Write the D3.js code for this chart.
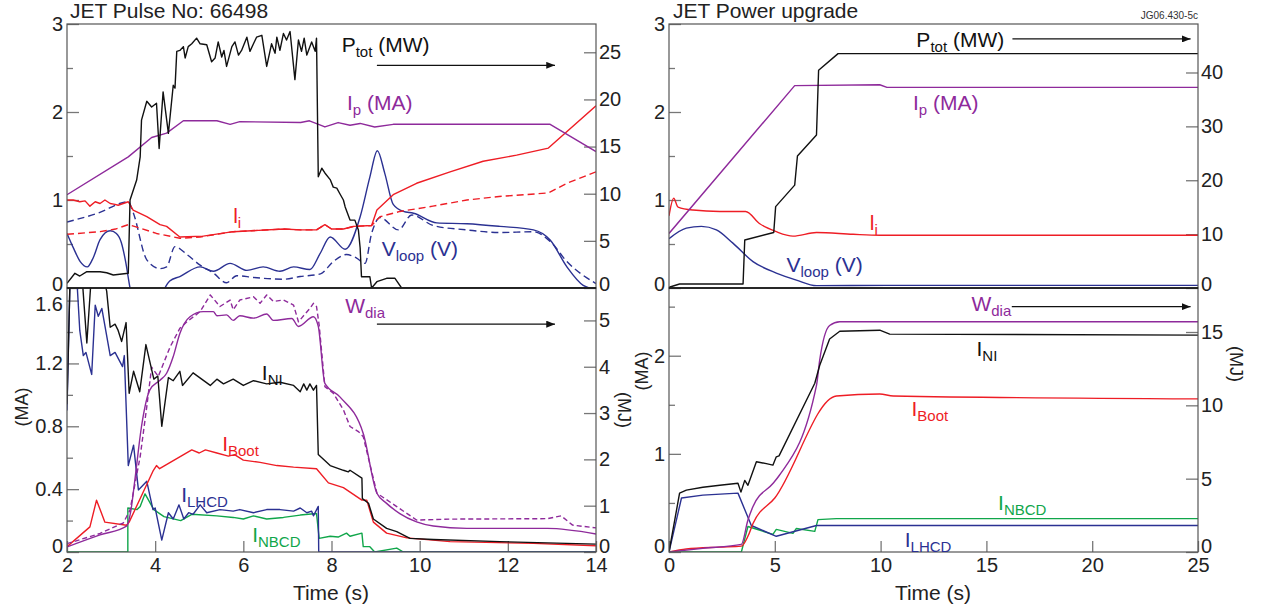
<!DOCTYPE html>
<html>
<head>
<meta charset="utf-8">
<script src="https://cdn.jsdelivr.net/npm/d3@7"></script>
<style>
  body { margin: 0; background: #fff; }
  text { font-family: "Liberation Sans", Arial, Helvetica, sans-serif; }
</style>
</head>
<body>
<div id="chart"></div>
<script>
// ---- Left column: JET pulse 66498, [time (s), value] ----
var ltPtot = [[2.0,0.5],[2.18,1.56],[2.29,1.27],[2.45,1.73],[2.75,1.73],[2.9,1.62],[3.05,1.38],[3.39,1.56],[3.43,9.33],[3.58,11.45],[3.66,13.9],[3.69,17.8],[3.81,19.8],[3.92,19.2],[4.03,19.6],[4.09,14.8],[4.18,20.8],[4.3,16.4],[4.41,21.5],[4.45,21.2],[4.49,25.1],[4.56,25.2],[4.64,25.6],[4.68,24.4],[4.75,25.6],[4.83,25.9],[4.94,26.5],[5.02,25.9],[5.17,25.8],[5.28,24.0],[5.36,24.4],[5.43,26.1],[5.51,24.5],[5.56,25.2],[5.62,23.5],[5.74,25.6],[5.81,26.1],[5.89,24.7],[5.96,25.2],[6.08,26.6],[6.15,25.1],[6.23,25.9],[6.3,26.6],[6.42,26.8],[6.53,23.5],[6.64,25.9],[6.72,24.9],[6.76,26.6],[6.83,25.2],[6.91,27.0],[6.98,26.3],[7.06,27.2],[7.17,22.1],[7.25,26.3],[7.32,25.1],[7.38,26.5],[7.44,24.7],[7.55,26.1],[7.63,25.1],[7.66,26.5],[7.7,11.8],[7.78,12.7],[7.85,12.2],[7.97,11.5],[8.04,10.7],[8.12,10.6],[8.19,10.0],[8.27,9.33],[8.31,8.6],[8.42,7.2],[8.53,7.2],[8.61,6.15],[8.65,4.24],[8.68,1.2],[8.87,1.2],[8.91,0],[9.03,0.67],[9.25,1.03],[9.44,1.03],[9.59,0],[14,0]];
var ltIp = [[2,1.06],[3.39,1.49],[3.92,1.71],[4.26,1.76],[4.64,1.9],[5.4,1.9],[5.7,1.86],[5.92,1.89],[7.3,1.88],[7.5,1.9],[7.75,1.85],[7.85,1.83],[8.15,1.88],[8.42,1.85],[8.65,1.87],[8.98,1.83],[9.4,1.86],[12.96,1.86],[14,1.55]];
var ltLi = [[2,1.0],[2.14,1.0],[2.29,0.98],[2.41,0.99],[2.52,0.93],[2.64,0.98],[2.75,0.96],[2.86,1.0],[2.98,0.96],[3.09,0.95],[3.16,0.94],[3.39,0.98],[3.5,0.886],[3.81,0.81],[4.11,0.72],[4.26,0.7],[4.56,0.58],[5.09,0.59],[5.77,0.64],[6.91,0.67],[7.3,0.66],[7.66,0.66],[7.85,0.72],[8.0,0.67],[8.27,0.67],[8.5,0.7],[8.91,0.71],[9.03,0.886],[9.4,1.06],[9.93,1.19],[10.69,1.32],[11.44,1.44],[12.2,1.51],[12.92,1.59],[14,2.07]];
var ltLiSim = [[2,0.61],[2.75,0.64],[3.1,0.67],[3.39,0.72],[3.66,0.68],[4.03,0.62],[4.56,0.565],[5.02,0.58],[5.77,0.64],[6.91,0.67],[7.3,0.66],[7.66,0.66],[7.85,0.72],[8.0,0.67],[8.27,0.67],[8.5,0.7],[8.91,0.71],[9.1,0.81],[9.55,0.87],[10.3,0.93],[11.07,1.0],[11.8,1.04],[12.92,1.08],[13.34,1.19],[14,1.32]];
var ltVloop = [[2,0.62],[2.15,0.45],[2.3,0.3],[2.46,0.24],[2.6,0.35],[2.75,0.55],[2.98,0.65],[3.12,0.62],[3.23,0.52],[3.33,0.3],[3.43,0],[3.6,-0.3],[4.0,-0.3],[4.22,0],[4.33,0.08],[4.56,0.13],[5.02,0.24],[5.32,0.19],[5.7,0.28],[6.08,0.2],[6.45,0.24],[6.83,0.19],[7.14,0.24],[7.51,0.21],[7.74,0.39],[7.97,0.58],[8.31,0.44],[8.65,0.81],[8.87,1.26],[9.04,1.56],[9.21,1.3],[9.4,0.95],[9.63,0.87],[9.86,0.85],[10.39,0.74],[11.07,0.73],[11.82,0.7],[12.58,0.66],[12.96,0.545],[13.34,0.24],[13.71,0.03],[13.86,0],[14,-0.02]];
var ltVloopSim = [[2,0.75],[2.7,0.85],[3.39,0.98],[3.5,0.86],[3.81,0.32],[4.11,0.22],[4.26,0.24],[4.45,0.47],[4.72,0.38],[5.02,0.26],[5.32,0.17],[5.62,0.06],[5.85,0.14],[6.23,0.12],[6.91,0.1],[7.29,0.13],[7.75,0.16],[8.04,0.3],[8.34,0.38],[8.57,0.34],[8.76,0.28],[8.91,0.62],[9.1,0.8],[9.52,0.66],[9.82,0.83],[10.31,0.71],[11.07,0.66],[11.82,0.63],[12.58,0.64],[12.96,0.53],[13.34,0.3],[14,0.05]];

var lbINI = [[2,0.94],[2.07,1.75],[2.3,1.75],[2.35,1.72],[2.45,1.33],[2.55,1.75],[2.85,1.72],[2.9,1.66],[2.98,1.43],[3.09,1.45],[3.16,1.41],[3.24,1.34],[3.34,1.46],[3.41,1.01],[3.51,1.15],[3.65,1.02],[3.79,1.32],[3.97,1.1],[4.06,1.12],[4.15,0.8],[4.3,1.11],[4.41,1.09],[4.56,1.15],[4.62,1.06],[4.86,1.14],[5.25,1.06],[5.4,1.1],[5.55,1.07],[5.77,1.1],[6.0,1.06],[6.23,1.09],[6.53,1.07],[6.83,1.08],[7.14,1.06],[7.29,1.02],[7.37,1.07],[7.44,1.03],[7.51,1.07],[7.59,1.03],[7.66,1.06],[7.7,0.62],[7.97,0.55],[8.27,0.52],[8.38,0.51],[8.42,0.52],[8.69,0.47],[8.7,0.34],[8.84,0.31],[8.95,0.21],[9.25,0.15],[9.48,0.13],[9.78,0.087],[10.31,0.08],[11.82,0.066],[14,0.05]];
var lbBoot = [[2,0.034],[2.52,0.16],[2.67,0.33],[2.86,0.19],[3.35,0.17],[3.41,0.19],[3.96,0.52],[4.03,0.55],[4.1,0.53],[4.83,0.65],[5.0,0.63],[5.14,0.65],[5.4,0.63],[5.66,0.61],[5.8,0.62],[6.0,0.585],[6.38,0.57],[6.76,0.55],[7.14,0.54],[7.66,0.53],[7.93,0.44],[8.27,0.41],[8.69,0.33],[8.8,0.33],[8.95,0.19],[9.25,0.12],[9.71,0.09],[10.69,0.066],[12.58,0.055],[14,0.04]];
var lbLHCD = [[2,0.9],[2.07,1.75],[2.22,1.75],[2.29,1.41],[2.37,1.25],[2.43,1.27],[2.56,1.13],[2.64,1.57],[2.71,1.5],[2.79,1.55],[2.98,1.25],[3.09,1.27],[3.26,1.18],[3.3,1.25],[3.39,0.55],[3.51,0.68],[3.62,0.395],[3.81,0.45],[3.95,0.27],[4.0,0.28],[4.15,0.076],[4.3,0.25],[4.41,0.21],[4.54,0.3],[4.65,0.21],[4.76,0.25],[4.86,0.24],[5.02,0.3],[5.17,0.25],[5.47,0.27],[5.77,0.26],[5.92,0.27],[6.23,0.25],[6.53,0.27],[6.83,0.27],[7.14,0.26],[7.29,0.28],[7.44,0.25],[7.55,0.26],[7.59,0.23],[7.7,0.29],[7.71,0],[14,0]];
var lbNBCD = [[2,0],[3.38,0],[3.38,0.28],[3.59,0.27],[3.66,0.29],[3.77,0.37],[3.97,0.27],[4.2,0.225],[4.58,0.2],[4.83,0.24],[5.4,0.23],[5.77,0.22],[6.0,0.21],[6.23,0.23],[6.53,0.21],[6.91,0.22],[7.29,0.235],[7.66,0.245],[7.72,0.087],[7.97,0.1],[8.15,0.095],[8.34,0.12],[8.42,0.1],[8.69,0.12],[8.72,0.034],[8.87,0.034],[8.98,0],[9.48,0.025],[9.63,0],[14,0]];
var lbWdia = [[2,0.11],[2.75,0.37],[3.35,0.56],[3.45,0.9],[3.54,1.56],[3.69,2.71],[3.88,3.5],[4.11,3.71],[4.26,3.86],[4.41,4.22],[4.56,4.72],[4.79,5.08],[5.09,5.19],[5.32,5.19],[5.4,5.1],[5.62,5.12],[5.77,5.0],[5.92,5.1],[6.23,5.05],[6.53,5.14],[6.68,5.0],[7.1,5.04],[7.25,4.87],[7.59,5.08],[7.7,4.87],[7.85,3.64],[8.19,3.35],[8.72,2.56],[9.03,1.27],[9.25,1.05],[9.55,0.83],[9.93,0.65],[10.31,0.56],[11.07,0.51],[12.9,0.51],[14,0.39]];
var lbWdiaAlt = [[2,0.18],[2.75,0.4],[3.28,0.63],[3.43,0.91],[3.66,2.06],[3.81,3.14],[3.92,3.99],[4.07,3.79],[4.34,4.43],[4.56,4.83],[4.72,4.97],[5.02,5.19],[5.25,5.55],[5.47,5.3],[5.7,5.44],[5.77,5.23],[5.92,5.44],[6.23,5.51],[6.38,5.37],[6.53,5.55],[6.68,5.41],[6.91,5.44],[7.14,5.33],[7.25,4.97],[7.51,5.26],[7.59,5.37],[7.66,5.3],[7.72,4.9],[7.85,3.57],[8.04,3.43],[8.27,3.07],[8.42,2.71],[8.61,2.6],[8.72,2.49],[9.03,1.27],[9.48,0.98],[9.93,0.69],[10.69,0.71],[12.9,0.72],[13.21,0.78],[13.47,0.58],[14,0.52]];

// ---- Right column: JET power upgrade, [time (s), value] ----
var rtPtot = [[0,0.13],[0.5,0.74],[3.5,0.74],[3.58,8.9],[4.95,10.3],[5.04,15.1],[5.94,19.1],[6.07,24.5],[6.97,28.4],[7.07,40.4],[7.99,43.5],[25,43.5]];
var rtIp = [[0,0.62],[5.94,2.3],[9.96,2.31],[10.3,2.28],[25,2.28]];
var rtLi = [[0,0.82],[0.22,1.02],[0.43,0.92],[1.13,0.886],[2.4,0.87],[3.62,0.87],[4.29,0.73],[5.07,0.64],[5.86,0.59],[6.97,0.63],[8.7,0.61],[9.96,0.6],[25,0.6]];
var rtVloop = [[0,0.56],[0.82,0.68],[1.53,0.7],[2.24,0.66],[3.02,0.51],[3.97,0.3],[5.07,0.17],[6.02,0.09],[6.97,0.027],[10.27,0.03],[25,0.03]];

var rbINI = [[0,0],[0.5,0.6],[0.82,0.63],[1.6,0.66],[2.4,0.68],[3.26,0.7],[3.4,0.61],[3.58,0.73],[3.73,0.68],[4.13,0.92],[4.6,0.9],[4.91,0.885],[5.07,0.97],[5.2,0.98],[6.89,1.72],[7.12,1.9],[7.59,2.17],[8.07,2.25],[9.96,2.26],[10.43,2.22],[25,2.21]];
var rbBoot = [[0,0],[0.82,0.03],[2.4,0.05],[3.42,0.06],[3.73,0.16],[3.97,0.29],[5.0,0.55],[7.91,1.59],[9.96,1.61],[10.6,1.59],[25,1.56]];
var rbLHCD = [[0,0],[0.59,0.55],[1.6,0.58],[3.26,0.6],[3.89,0.27],[5.07,0.16],[6.97,0.27],[25,0.27]];
var rbNBCD = [[0,0],[3.42,0],[3.73,0.26],[4.91,0.18],[5.07,0.23],[5.86,0.19],[6.02,0.24],[6.89,0.21],[7.04,0.33],[7.91,0.34],[25,0.34]];
var rbWdia = [[0,0],[1.6,0.25],[3.42,0.52],[3.73,2.18],[3.97,3.1],[4.91,4.67],[5.2,5.2],[6.97,11.36],[7.12,13.06],[7.59,15.44],[8.07,15.7],[25,15.7]];

// ---- Tick values ----
var leftTimeTicks = [2, 4, 6, 8, 10, 12, 14];
var rightTimeTicks = [0, 5, 10, 15, 20, 25];
var maTicksTop = [0, 1, 2, 3], maMinorTop = [0.5, 1.5, 2.5];
var maTicksLB = [0, 0.4, 0.8, 1.2, 1.6], maMinorLB = [0.2, 0.6, 1.0, 1.4];
var maTicksRB = [0, 1, 2], maMinorRB = [0.5, 1.5, 2.5];
var mwTicksLT = [0, 5, 10, 15, 20, 25];
var mwTicksRT = [0, 10, 20, 30, 40];
var mjTicksLB = [0, 1, 2, 3, 4, 5];
var mjTicksRB = [0, 5, 10, 15];

var colors = { black: "#111", purple: "#8e2a9b", red: "#ee1d25", blue: "#2b3192", green: "#10a64a" };

var width = 1263, height = 610;
var svg = d3.select("#chart").append("svg")
  .attr("width", width)
  .attr("height", height);

var defs = svg.append("defs");
defs.append("marker")
  .attr("id", "arrow")
  .attr("viewBox", "0 -4 10 8")
  .attr("refX", 10).attr("refY", 0)
  .attr("markerWidth", 9).attr("markerHeight", 7)
  .attr("markerUnits", "userSpaceOnUse")
  .attr("orient", "auto")
  .append("path").attr("d", "M0,-4L10,0L0,4Z").attr("fill", "#111");

// Shared time scales and vertical bands
var xLeft = d3.scaleLinear().domain([2, 14]).range([67, 596]);
var xRight = d3.scaleLinear().domain([0, 25]).range([669, 1198]);
var topBand = [288, 24], botBand = [552, 288];

var panels = [
  { id: "lt", bottom: false, x: xLeft, yL: d3.scaleLinear().domain([0, 3]).range(topBand), yR: d3.scaleLinear().domain([0, 28]).range(topBand),
    lTicks: maTicksTop, lMinor: maMinorTop, rTicks: mwTicksLT,
    series: [
      { d: ltVloop, y: "L", c: colors.blue, curve: d3.curveMonotoneX },
      { d: ltVloopSim, y: "L", c: colors.blue, dash: "7,4", curve: d3.curveMonotoneX },
      { d: ltLiSim, y: "L", c: colors.red, dash: "7,4" },
      { d: ltLi, y: "L", c: colors.red },
      { d: ltIp, y: "L", c: colors.purple },
      { d: ltPtot, y: "R", c: colors.black }
    ] },
  { id: "lb", bottom: true, x: xLeft, yL: d3.scaleLinear().domain([0, 1.68]).range(botBand), yR: d3.scaleLinear().domain([0, 5.7]).range(botBand),
    lTicks: maTicksLB, lMinor: maMinorLB, rTicks: mjTicksLB, xTicks: leftTimeTicks,
    series: [
      { d: lbNBCD, y: "L", c: colors.green },
      { d: lbLHCD, y: "L", c: colors.blue },
      { d: lbBoot, y: "L", c: colors.red },
      { d: lbWdiaAlt, y: "R", c: colors.purple, dash: "5,3" },
      { d: lbWdia, y: "R", c: colors.purple, curve: d3.curveMonotoneX },
      { d: lbINI, y: "L", c: colors.black }
    ] },
  { id: "rt", bottom: false, x: xRight, yL: d3.scaleLinear().domain([0, 3]).range(topBand), yR: d3.scaleLinear().domain([0, 49]).range(topBand),
    lTicks: maTicksTop, lMinor: maMinorTop, rTicks: mwTicksRT,
    series: [
      { d: rtVloop, y: "L", c: colors.blue, curve: d3.curveMonotoneX },
      { d: rtLi, y: "L", c: colors.red, curve: d3.curveMonotoneX },
      { d: rtIp, y: "L", c: colors.purple },
      { d: rtPtot, y: "R", c: colors.black }
    ] },
  { id: "rb", bottom: true, x: xRight, yL: d3.scaleLinear().domain([0, 2.69]).range(botBand), yR: d3.scaleLinear().domain([0, 18]).range(botBand),
    lTicks: maTicksRB, lMinor: maMinorRB, rTicks: mjTicksRB, xTicks: rightTimeTicks,
    series: [
      { d: rbNBCD, y: "L", c: colors.green },
      { d: rbLHCD, y: "L", c: colors.blue },
      { d: rbBoot, y: "L", c: colors.red, curve: d3.curveMonotoneX },
      { d: rbWdia, y: "R", c: colors.purple, curve: d3.curveMonotoneX },
      { d: rbINI, y: "L", c: colors.black }
    ] }
];

function fmtMA(d) { return d === 0 ? "0" : (Number.isInteger(d) ? String(d) : d.toFixed(1)); }

panels.forEach(function(p) {
  var x0 = p.x.range()[0], x1 = p.x.range()[1];
  var yb = p.yL.range()[0], yt = p.yL.range()[1];
  var g = svg.append("g").attr("class", "panel-" + p.id);

  defs.append("clipPath").attr("id", "clip-" + p.id)
    .append("rect").attr("x", x0).attr("y", yt).attr("width", x1 - x0).attr("height", yb - yt);

  // Axes: ticks point inwards, labels outside
  var yAxes = g.append("g");
  yAxes.append("g").attr("transform", "translate(" + x0 + ",0)")
    .call(d3.axisLeft(p.yL).tickValues(p.lTicks).tickSize(-12).tickPadding(4).tickFormat(fmtMA));
  yAxes.append("g").attr("transform", "translate(" + x0 + ",0)")
    .call(d3.axisLeft(p.yL).tickValues(p.lMinor).tickSize(-6).tickFormat(""));
  yAxes.append("g").attr("transform", "translate(" + x1 + ",0)")
    .call(d3.axisRight(p.yR).tickValues(p.rTicks).tickSize(-12).tickPadding(3).tickFormat(d3.format("d")));
  if (p.xTicks) {
    g.append("g").attr("transform", "translate(0," + yb + ")")
      .call(d3.axisBottom(p.x).tickValues(p.xTicks).tickSize(-11).tickPadding(6));
  }
  g.selectAll(".domain").remove();
  g.selectAll(".tick line").attr("stroke", "#777").attr("stroke-width", 1.3);
  g.selectAll(".tick text").attr("fill", "#222").style("font-size", "20px")
    .style("font-family", "'Liberation Sans', Arial, sans-serif");
  // nudge the zero labels so they clear neighbouring panels / time labels
  yAxes.selectAll(".tick text").filter(function(d) { return d === 0; })
    .attr("y", p.bottom ? -6 : -4);
  if (p.id === "lb") {
    yAxes.selectAll(".tick text").filter(function(d) { return d === 1.6; }).attr("y", 4);
  }

  var plot = g.append("g").attr("clip-path", "url(#clip-" + p.id + ")");
  p.series.forEach(function(s) {
    var ys = s.y === "L" ? p.yL : p.yR;
    var line = d3.line()
      .x(function(d) { return p.x(d[0]); })
      .y(function(d) { return ys(d[1]); })
      .curve(s.curve || d3.curveLinear);
    plot.append("path")
      .datum(s.d)
      .attr("d", line)
      .attr("fill", "none")
      .attr("stroke", s.c)
      .attr("stroke-width", 1.4)
      .attr("stroke-dasharray", s.dash || null)
      .attr("stroke-linejoin", "round");
  });

  g.append("rect")
    .attr("x", x0).attr("y", yt)
    .attr("width", x1 - x0).attr("height", yb - yt)
    .attr("fill", "none").attr("stroke", "#555").attr("stroke-width", 1.2);
});

// Dark separators between the stacked panels
[xLeft, xRight].forEach(function(x) {
  svg.append("line")
    .attr("x1", x.range()[0]).attr("x2", x.range()[1])
    .attr("y1", topBand[0]).attr("y2", topBand[0])
    .attr("stroke", "#111").attr("stroke-width", 1.4);
});

// Curve labels with subscripts
function label(x, y, main, sub, tail, color) {
  var t = svg.append("text").attr("x", x).attr("y", y)
    .attr("fill", color).style("font-size", "21px");
  t.append("tspan").text(main);
  if (sub) t.append("tspan").attr("dy", 5).style("font-size", "15px").text(sub);
  if (tail) t.append("tspan").attr("dy", sub ? -5 : 0).text(tail);
}
function arrow(x1, x2, y) {
  svg.append("line").attr("x1", x1).attr("x2", x2).attr("y1", y).attr("y2", y)
    .attr("stroke", "#111").attr("stroke-width", 1.2).attr("marker-end", "url(#arrow)");
}

var lt = panels[0], lb = panels[1], rt = panels[2], rb = panels[3];
label(xLeft(8.23), lt.yL(2.68), "P", "tot", " (MW)", colors.black);
arrow(xLeft(9.03), xLeft(13.07), lt.yL(2.53));
label(xLeft(8.35), lt.yL(2.02), "I", "p", " (MA)", colors.purple);
label(xLeft(5.77), lt.yL(0.74), "l", "i", "", colors.red);
label(xLeft(9.14), lt.yL(0.36), "V", "loop", " (V)", colors.blue);

label(xLeft(8.31), lb.yL(1.52), "W", "dia", "", colors.purple);
arrow(xLeft(9.03), xLeft(13.07), lb.yL(1.45));
label(xLeft(6.42), lb.yL(1.095), "I", "NI", "", colors.black);
label(xLeft(5.52), lb.yL(0.64), "I", "Boot", "", colors.red);
label(xLeft(4.59), lb.yL(0.32), "I", "LHCD", "", colors.blue);
label(xLeft(6.2), lb.yL(0.066), "I", "NBCD", "", colors.green);

label(xRight(11.69), rt.yL(2.74), "P", "tot", " (MW)", colors.black);
arrow(xRight(16.23), xRight(24.65), rt.yL(2.83));
label(xRight(11.53), rt.yL(2.02), "I", "p", " (MA)", colors.purple);
label(xRight(9.49), rt.yL(0.66), "l", "i", "", colors.red);
label(xRight(5.55), rt.yL(0.185), "V", "loop", " (V)", colors.blue);

label(xRight(14.29), rb.yL(2.46), "W", "dia", "", colors.purple);
arrow(xRight(16.2), xRight(24.65), rb.yL(2.5));
label(xRight(14.53), rb.yL(2.0), "I", "NI", "", colors.black);
label(xRight(11.46), rb.yL(1.39), "I", "Boot", "", colors.red);
label(xRight(15.55), rb.yL(0.43), "I", "NBCD", "", colors.green);
label(xRight(11.14), rb.yL(0.054), "I", "LHCD", "", colors.blue);

// Titles, axis titles
svg.append("text").attr("x", 70).attr("y", 18).style("font-size", "21px").attr("fill", "#222").text("JET Pulse No: 66498");
svg.append("text").attr("x", 673).attr("y", 18).style("font-size", "21px").attr("fill", "#222").text("JET Power upgrade");
svg.append("text").attr("x", 1198).attr("y", 19).attr("text-anchor", "end").style("font-size", "10px").attr("fill", "#333").text("JG06.430-5c");

svg.append("text").attr("x", 331).attr("y", 600).attr("text-anchor", "middle").style("font-size", "21px").attr("fill", "#222").text("Time (s)");
svg.append("text").attr("x", 933).attr("y", 600).attr("text-anchor", "middle").style("font-size", "21px").attr("fill", "#222").text("Time (s)");

function vtitle(x, y, angle, txt) {
  svg.append("text")
    .attr("transform", "translate(" + x + "," + y + ") rotate(" + angle + ")")
    .attr("text-anchor", "middle").attr("dominant-baseline", "central")
    .style("font-size", "18px").attr("fill", "#222").text(txt);
}
vtitle(22, 407, -90, "(MA)");
vtitle(624, 410, 90, "(MJ)");
vtitle(642, 371, -90, "(MA)");
vtitle(1236, 364, 90, "(MJ)");
</script>
</body>
</html>
